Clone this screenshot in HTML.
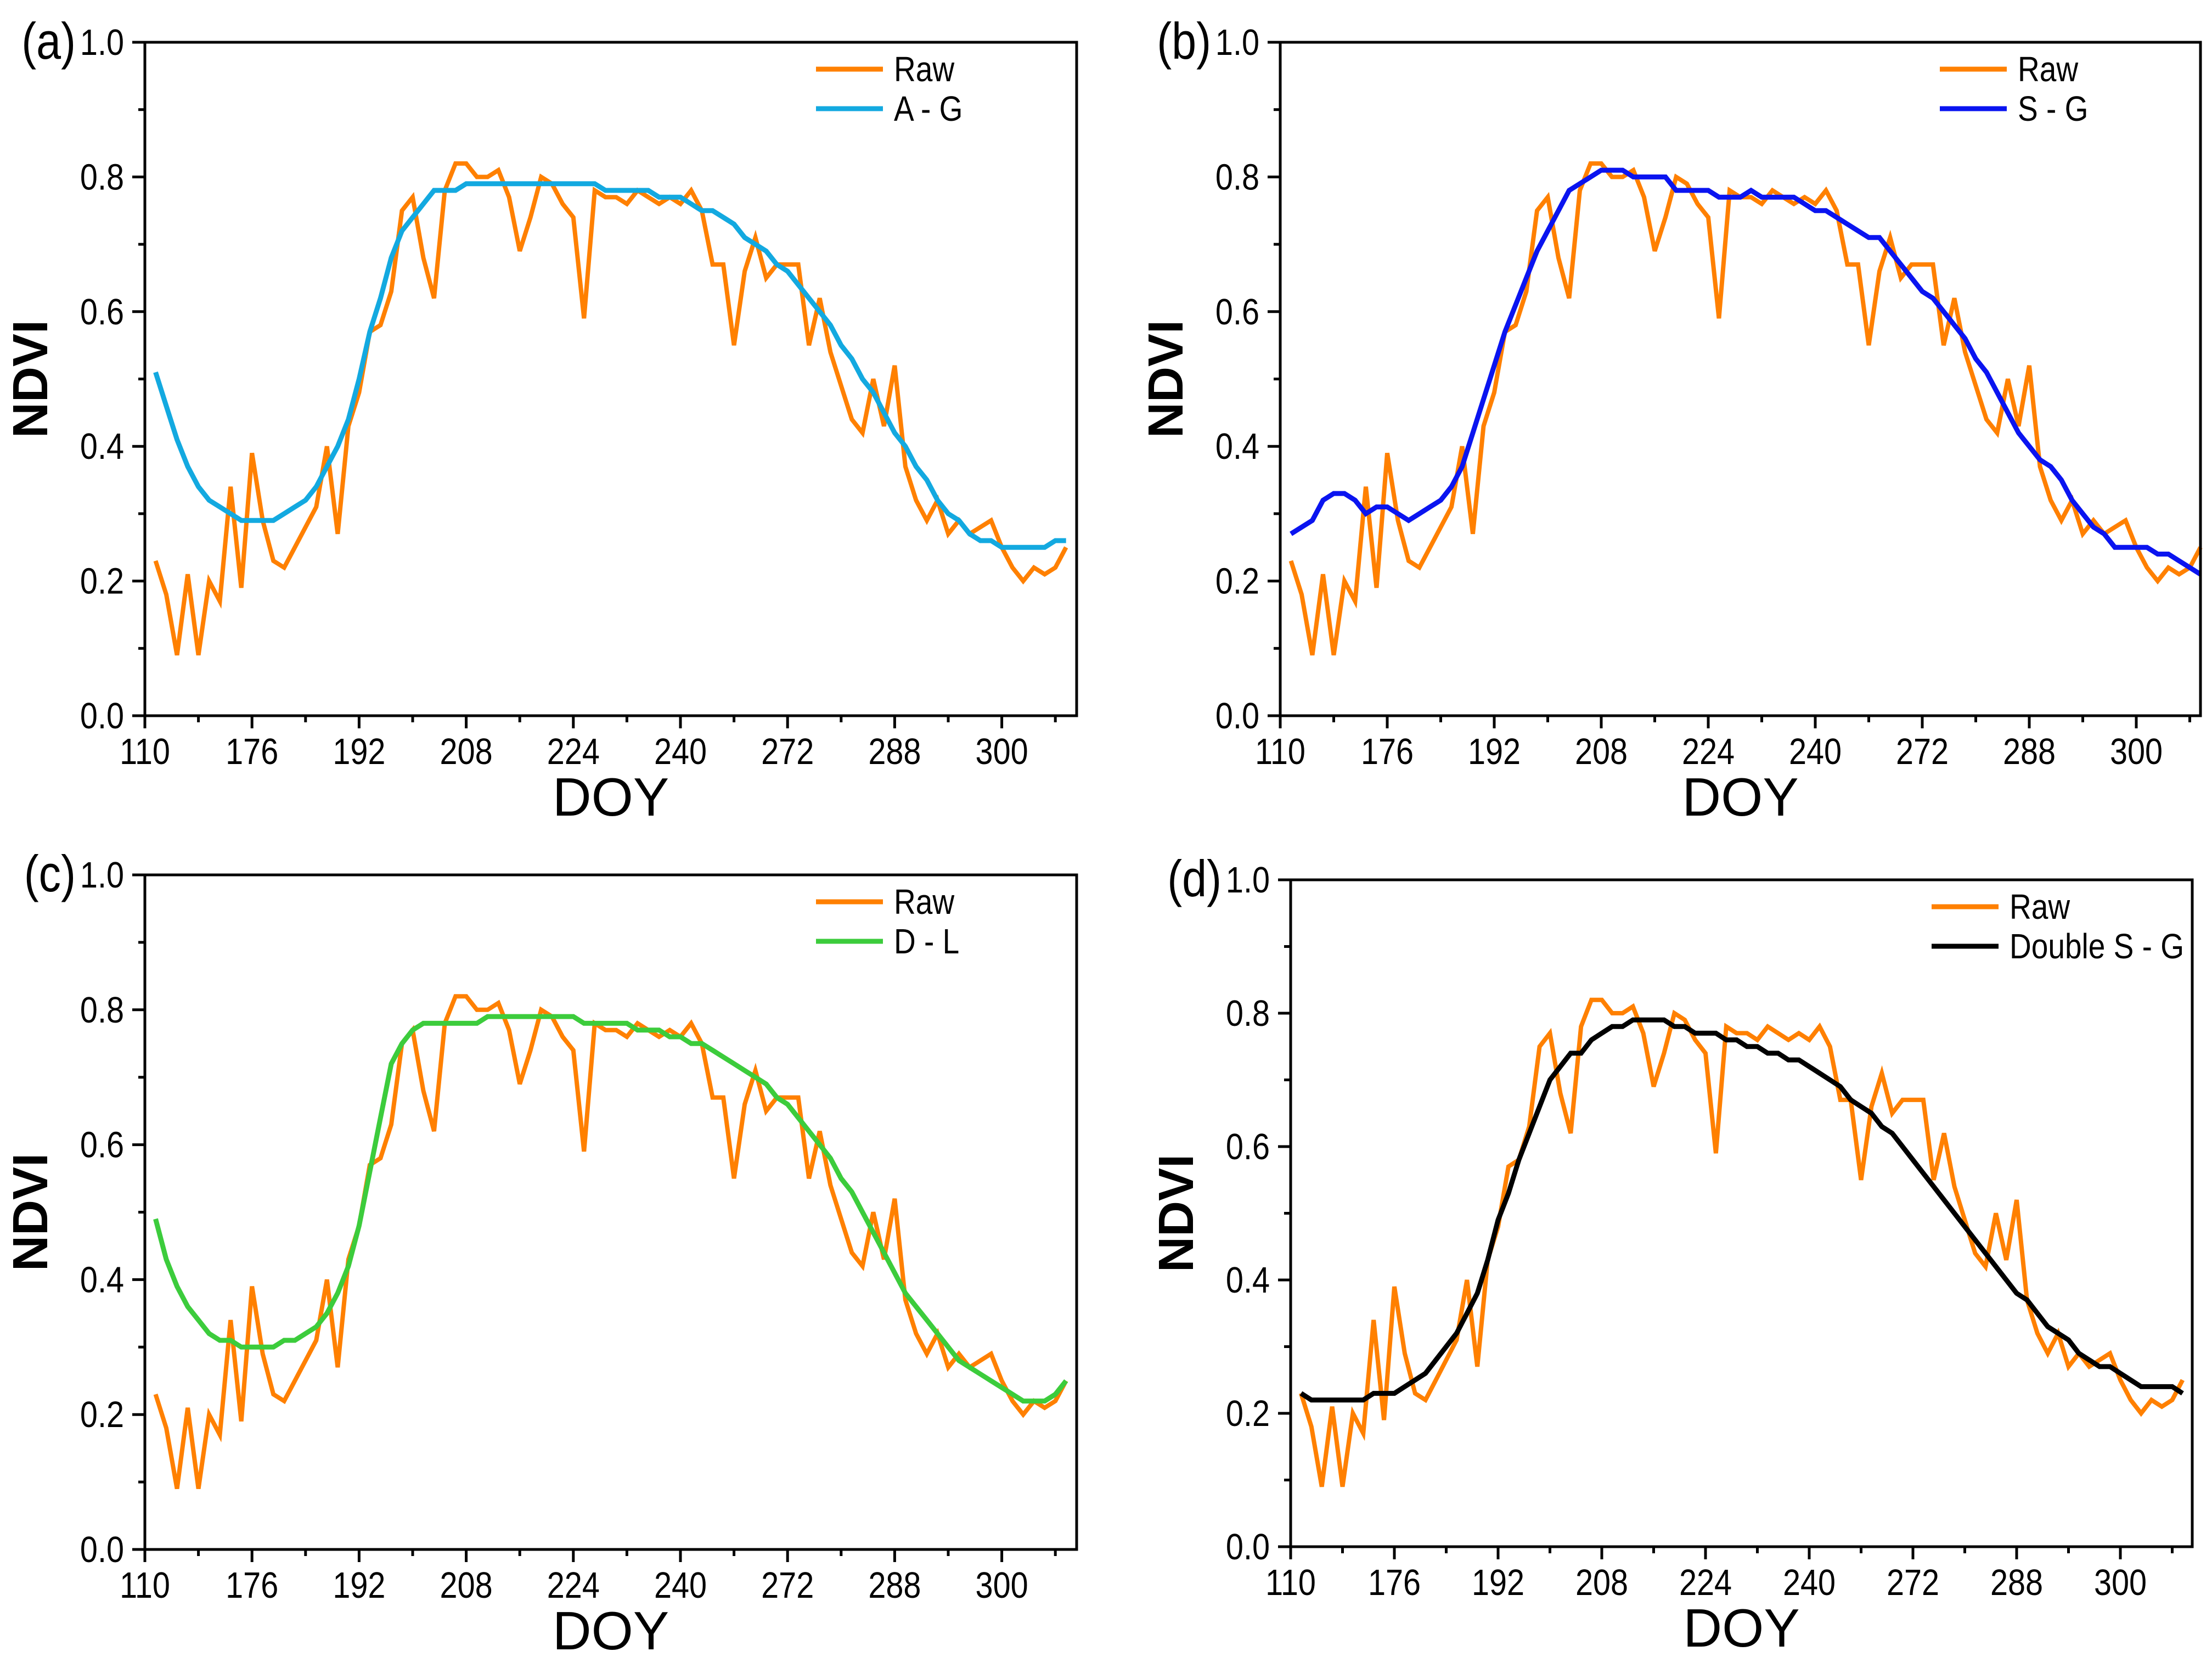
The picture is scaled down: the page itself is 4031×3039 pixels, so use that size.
<!DOCTYPE html>
<html><head><meta charset="utf-8">
<style>
html,body{margin:0;padding:0;background:#fff;}
svg{display:block;}
text{font-family:"Liberation Sans",sans-serif;fill:#000;}
</style></head>
<body>
<svg id="fig" width="4031" height="3039" viewBox="0 0 4031 3039" xmlns="http://www.w3.org/2000/svg"></svg>
<script>
const tickLabels = ["110","176","192","208","224","240","272","288","300"];
const yTicks = [0.0,0.2,0.4,0.6,0.8,1.0];
const rawNDVI = [0.23,0.18,0.09,0.21,0.09,0.20,0.17,0.34,0.19,0.39,0.29,0.23,0.22,0.25,0.28,0.31,0.40,0.27,0.43,0.48,0.57,0.58,0.63,0.75,0.77,0.68,0.62,0.78,0.82,0.82,0.80,0.80,0.81,0.77,0.69,0.74,0.80,0.79,0.76,0.74,0.59,0.78,0.77,0.77,0.76,0.78,0.77,0.76,0.77,0.76,0.78,0.75,0.67,0.67,0.55,0.66,0.71,0.65,0.67,0.67,0.67,0.55,0.62,0.54,0.49,0.44,0.42,0.50,0.43,0.52,0.37,0.32,0.29,0.32,0.27,0.29,0.27,0.28,0.29,0.25,0.22,0.20,0.22,0.21,0.22,0.25];
const agNDVI = [.51,.46,.41,.37,.34,.32,.31,.30,.29,.29,.29,.29,.30,.31,.32,.34,.37,.40,.44,.50,.57,.62,.68,.72,.74,.76,.78,.78,.78,.79,.79,.79,.79,.79,.79,.79,.79,.79,.79,.79,.79,.79,.78,.78,.78,.78,.78,.77,.77,.77,.76,.75,.75,.74,.73,.71,.70,.69,.67,.66,.64,.62,.60,.58,.55,.53,.50,.48,.45,.42,.40,.37,.35,.32,.30,.29,.27,.26,.26,.25,.25,.25,.25,.25,.26,.26];
const sgNDVI = [.27,.28,.29,.32,.33,.33,.32,.30,.31,.31,.30,.29,.30,.31,.32,.34,.37,.42,.47,.52,.57,.61,.65,.69,.72,.75,.78,.79,.80,.81,.81,.81,.80,.80,.80,.80,.78,.78,.78,.78,.77,.77,.77,.78,.77,.77,.77,.77,.76,.75,.75,.74,.73,.72,.71,.71,.69,.67,.65,.63,.62,.60,.58,.56,.53,.51,.48,.45,.42,.40,.38,.37,.35,.32,.30,.28,.27,.25,.25,.25,.25,.24,.24,.23,.22,.21];
const dlNDVI = [.49,.43,.39,.36,.34,.32,.31,.31,.30,.30,.30,.30,.31,.31,.32,.33,.35,.38,.42,.48,.56,.64,.72,.75,.77,.78,.78,.78,.78,.78,.78,.79,.79,.79,.79,.79,.79,.79,.79,.79,.78,.78,.78,.78,.78,.77,.77,.77,.76,.76,.75,.75,.74,.73,.72,.71,.70,.69,.67,.66,.64,.62,.60,.58,.55,.53,.50,.47,.44,.41,.38,.36,.34,.32,.30,.28,.27,.26,.25,.24,.23,.22,.22,.22,.23,.25];
const dsgNDVI = [.23,.22,.22,.22,.22,.22,.22,.23,.23,.23,.24,.25,.26,.28,.30,.32,.35,.38,.43,.49,.53,.58,.62,.66,.70,.72,.74,.74,.76,.77,.78,.78,.79,.79,.79,.79,.78,.78,.77,.77,.77,.76,.76,.75,.75,.74,.74,.73,.73,.72,.71,.70,.69,.67,.66,.65,.63,.62,.60,.58,.56,.54,.52,.50,.48,.46,.44,.42,.40,.38,.37,.35,.33,.32,.31,.29,.28,.27,.27,.26,.25,.24,.24,.24,.24,.23];

const NS="http://www.w3.org/2000/svg";
const svg=document.getElementById('fig');
function mk(tag,attrs,parent){const e=document.createElementNS(NS,tag);for(const k in attrs)e.setAttribute(k,attrs[k]);(parent||svg).appendChild(e);return e;}
function ntext(x,y,size,anchor,str,parent){
 const t=mk('text',{x:0,y:0,'font-size':size,'text-anchor':anchor,transform:`translate(${x} ${y}) scale(0.86 1)`},parent);
 t.textContent=str;return t;
}

const panels=[
 {id:'a',L:264,R:1962,T:77,B:1304,step:195.2,fit:agNDVI,color:'#13a9e0',name:'A - G'},
 {id:'b',L:2333,R:4010,T:77,B:1304,step:195.0,fit:sgNDVI,color:'#0a14f0',name:'S - G'},
 {id:'c',L:264,R:1962,T:1594,B:2823,step:195.2,fit:dlNDVI,color:'#3ccc3c',name:'D - L'},
 {id:'d',L:2352,R:3995,T:1603,B:2818,step:189.0,fit:dsgNDVI,color:'#000000',name:'Double S - G'}
];

panels.forEach(p=>{
 const g=mk('g',{});
 
 
 const xs=i=>p.L+(0.1+0.1*i)*p.step;
 const ys=v=>p.B-v*(p.B-p.T);
 let d=rawNDVI.map((v,i)=>(i?'L':'M')+xs(i).toFixed(1)+','+ys(v).toFixed(1)).join(' ');
 const raw=mk('path',{d:d,fill:'none',stroke:'#ff8000','stroke-width':8},g);
 
 
 d=p.fit.map((v,i)=>(i?'L':'M')+xs(i).toFixed(1)+','+ys(v).toFixed(1)).join(' ');
 const fit=mk('path',{d:d,fill:'none',stroke:p.color,'stroke-width':9},g);
 
 
 const fr=mk('rect',{x:p.L,y:p.T,width:p.R-p.L,height:p.B-p.T,fill:'none',stroke:'#000','stroke-width':5},g);
 
 
 tickLabels.forEach((t,k)=>{
  const x=p.L+k*p.step;
  mk('line',{x1:x,y1:p.B,x2:x,y2:p.B+23,stroke:'#000','stroke-width':5},g);
  const tx=ntext(x,p.B+88,67,'middle',t,g);
  
  
  const xm=x+p.step/2;
  if(xm<p.R) mk('line',{x1:xm,y1:p.B,x2:xm,y2:p.B+12,stroke:'#000','stroke-width':5},g);
 });
 yTicks.forEach(v=>{
  const y=ys(v);
  mk('line',{x1:p.L-23,y1:y,x2:p.L,y2:y,stroke:'#000','stroke-width':5},g);
  const ty=ntext(p.L-38,y+23,67,'end',v.toFixed(1),g);
  
  
  if(v<1){const ym=ys(v+0.1);mk('line',{x1:p.L-12,y1:ym,x2:p.L,y2:ym,stroke:'#000','stroke-width':5},g);}
 });
 const xt=mk('text',{x:(p.L+p.R)/2,y:p.B+182,'font-size':98,'text-anchor':'middle'},g);
 xt.textContent='DOY';
 
 
 const yx=p.L-178, yy=(p.T+p.B)/2;
 const yt=mk('text',{x:yx,y:yy,'font-size':90,'text-anchor':'middle','font-weight':'bold',transform:`rotate(-90 ${yx} ${yy})`},g);
 yt.textContent='NDVI';
 
 
 const pl=ntext(p.L-126,p.T+30,94,'end','('+p.id+')',g);
 
 
 const lg=mk('g',{},g);
 
 
 const lx=p.R-475;
 [['Raw','#ff8000',p.T+49],[p.name,p.color,p.T+121]].forEach(r=>{
  mk('line',{x1:lx,y1:r[2],x2:lx+122,y2:r[2],stroke:r[1],'stroke-width':9},lg);
  const t=ntext(lx+142,r[2]+22,64,'start',r[0],lg);
  
  
 });
});
</script>
</body></html>
